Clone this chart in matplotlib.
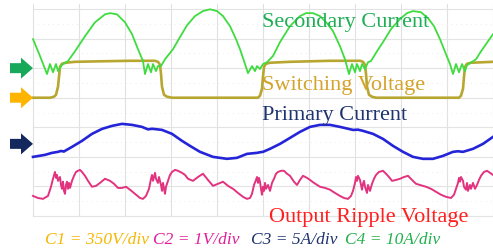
import numpy as np
import matplotlib
matplotlib.use("Agg")
import matplotlib.pyplot as plt
from matplotlib.patches import Polygon
from matplotlib.transforms import ScaledTranslation

# ---------------- data ----------------
# time axis in microseconds (4.6 us / div)
t_sec = [0.0, 0.7, 1.4, 1.7, 2.0, 2.3, 2.5, 2.8, 3.0, 3.5, 4.2, 5.2, 6.2, 7.2, 7.7, 8.4, 9.2, 9.9,
         10.5, 11.0, 11.2, 11.5, 11.8, 12.0, 12.3, 12.5, 12.8, 13.2, 14.0, 14.7, 15.4, 16.2, 17.0,
         17.7, 18.4, 19.0, 19.7, 20.3, 20.7, 21.2, 21.5, 21.9, 22.2, 22.4, 22.7, 23.0, 23.4, 24.0,
         24.7, 25.7, 26.7, 27.3, 28.0, 28.7, 29.4, 30.0, 30.7, 31.2, 31.6, 31.9, 32.2, 32.4, 32.7,
         32.9, 33.2, 33.5, 33.8, 34.4, 35.0, 35.8, 36.7, 37.4, 38.0, 38.8, 39.5, 40.1, 40.7, 41.3,
         41.7, 42.0, 42.3, 42.6, 42.9, 43.2, 43.4, 43.7, 44.3, 44.8, 45.3, 46.0]
# secondary current (A), C4 = 10 A/div
i_sec = [9.8, 4.1, -2.0, 1.4, -1.4, 1.4, -1.0, 0.7, 1.4, 2.4, 5.7, 10.8, 15.5, 18.2, 18.6, 18.2, 15.5, 11.5,
         6.4, 2.4, -2.0, 1.4, -1.4, 1.4, -1.0, 0.7, 0.7, 3.0, 6.4, 10.5, 14.5, 17.6, 19.3,
         19.9, 19.3, 17.6, 14.2, 9.8, 6.4, 1.4, -1.7, 0.7, -1.0, 0.7, -0.3, 1.4, 2.0, 4.1,
         8.8, 14.2, 17.6, 18.6, 18.6, 17.6, 15.2, 12.5, 7.4, 3.0, -2.0, 1.4, -1.4, 1.4, -1.0,
         1.4, -0.3, 2.0, 2.4, 5.7, 8.8, 13.2, 16.6, 18.6, 19.3, 18.9, 16.9, 14.2, 9.8, 4.7,
         1.4, -2.0, 1.4, -1.4, 1.4, -1.0, 1.0, 1.7, 3.0, 5.7, 8.1, 11.5]

t_sw = [0.0, 1.7, 2.1, 2.3, 2.5, 2.6, 2.7, 2.9, 3.3, 4.2, 6.7, 9.7, 12.2, 12.5, 12.7, 12.8, 12.9,
        13.1, 13.4, 13.9, 22.5, 22.7, 22.9, 23.0, 23.1, 23.3, 23.7, 25.7, 29.7, 32.7, 33.0, 33.2,
        33.3, 33.4, 33.6, 33.9, 34.3, 42.6, 42.8, 43.0, 43.1, 43.2, 43.4, 43.8, 46.0]
# switching voltage (V), C1 = 350 V/div
v_sw = [0, 0, 12, 35, 130, 248, 366, 402, 414, 425, 431, 437, 437, 425, 390, 284, 130,
        35, 12, 0, 0, 24, 106, 248, 366, 402, 414, 425, 437, 437, 425, 390,
        284, 130, 35, 12, 0, 0, 24, 106, 248, 366, 402, 414, 425]

t_pri = [0.0, 1.2, 1.9, 2.5, 2.8, 3.1, 3.2, 3.9, 4.9, 5.9, 6.9, 7.9, 8.9, 9.9, 10.9, 11.5, 11.9,
         12.2, 12.9, 13.9, 14.9, 15.7, 16.7, 18.0, 19.4, 20.4, 21.4, 22.4, 22.7, 23.0, 23.7, 24.7,
         25.7, 26.7, 27.7, 28.7, 29.7, 30.7, 32.0, 32.5, 33.0, 34.0, 35.0, 36.0, 37.0, 38.0, 39.0,
         40.0, 41.0, 42.0, 42.5, 43.0, 44.0, 45.0, 46.0]
# primary current (A), C3 = 5 A/div
i_pri = [-2.20, -1.86, -1.52, -1.35, -1.20, -1.30, -1.18, -0.51, 0.51, 1.69, 2.53, 3.04, 3.38, 3.21,
         2.87, 2.45, 2.55, 2.50, 2.36, 1.69, 0.51, -0.34, -1.35, -2.20, -2.53, -2.36, -1.69, -1.52,
         -1.42, -1.35, -0.84, 0.00, 1.01, 2.03, 2.87, 3.21, 3.21, 2.87, 2.36, 2.40, 2.20, 1.69, 0.84,
         -0.34, -1.35, -2.20, -2.53, -2.53, -2.03, -1.35, -1.25, -1.35, -0.84, 0.00, 1.18]

t_rip = [0.0, 0.5, 1.0, 1.5, 1.8, 2.0, 2.2, 2.3, 2.4, 2.5, 2.7, 2.8, 2.9, 3.0, 3.1, 3.2, 3.3, 3.4,
         3.5, 3.6, 3.7, 3.9, 4.1, 4.3, 4.5, 4.7, 4.9, 5.2, 5.5, 5.9, 6.3, 6.7, 7.2, 7.7, 8.1, 8.5,
         8.9, 9.3, 9.7, 10.2, 10.7, 11.0, 11.3, 11.6, 11.8, 11.9, 12.0, 12.2, 12.3, 12.5, 12.6, 12.8,
         12.9, 13.0, 13.2, 13.3, 13.5, 13.7, 13.9, 14.2, 14.5, 14.9, 15.2,
         15.5, 16.0, 16.5, 17.0, 17.5, 18.0, 18.5, 19.0, 19.5, 20.0, 20.5, 21.0, 21.4, 21.7, 21.9,
         22.1, 22.3, 22.4, 22.5, 22.6, 22.7, 22.8, 22.9, 23.0, 23.1, 23.2, 23.3, 23.5, 23.7, 23.9,
         24.1, 24.3, 24.5, 24.8, 25.1, 25.4, 25.7, 26.1, 26.4, 26.7, 27.0, 27.4, 27.7, 28.1, 28.7,
         29.2, 29.7, 30.2, 30.7,
         31.1, 31.5, 31.8, 32.0, 32.2, 32.3, 32.4, 32.5, 32.7, 32.8, 32.9, 33.0, 33.1, 33.2, 33.4,
         33.5, 33.7, 33.9, 34.1, 34.3, 34.6, 35.0, 35.3, 35.6, 35.9, 36.3, 36.7, 37.1, 37.5, 37.9,
         38.3, 38.7, 39.3, 39.8, 40.3, 40.8, 41.3, 41.8, 42.1, 42.3, 42.5, 42.6, 42.7, 42.8, 43.0,
         43.1, 43.3, 43.4, 43.5, 43.7, 43.8, 44.0, 44.2, 44.4, 44.6, 44.8, 45.1, 45.4, 45.7, 46.0]
# output ripple voltage (V), C2 = 1 V/div
v_rip = [-0.32, -0.39, -0.42, -0.32, -0.01, 0.26, 0.49, 0.29, 0.39, 0.19, 0.32, 0.05, -0.08, 0.16,
         -0.15, -0.25, 0.05, 0.16, -0.08, 0.12, -0.05, 0.19, 0.36, 0.49, 0.53, 0.56, 0.49, 0.36, 0.19,
         -0.01, 0.02, 0.12, 0.26, 0.19, 0.09, -0.05, -0.05, -0.01, -0.11, -0.25, -0.39, -0.42, -0.32,
         -0.08, 0.26, 0.39, 0.19, 0.46, 0.26, 0.12, 0.32, 0.05, -0.15, 0.12, -0.25, -0.01, 0.19, 0.39,
         0.49, 0.56, 0.53, 0.46, 0.39,
         0.26, 0.19, 0.32, 0.43, 0.22, 0.02, 0.09, 0.16, 0.02, -0.08, -0.22, -0.35, -0.42, -0.39, -0.25,
         0.05, 0.22, 0.32, 0.12, 0.29, 0.16, -0.08, -0.28, -0.01, -0.15, 0.12, -0.08, 0.05, -0.15, 0.12,
         0.26, 0.43, 0.49, 0.53, 0.53, 0.43, 0.36, 0.16, 0.05, 0.22, 0.36, 0.29, 0.22, 0.12, -0.01,
         -0.05, -0.11, -0.22, -0.32,
         -0.39, -0.42, -0.32, -0.15, 0.12, 0.32, 0.19, 0.36, 0.22, 0.05, -0.11, 0.09, 0.19, -0.01, -0.22,
         0.05, -0.15, 0.09, 0.26, 0.39, 0.49, 0.53, 0.43, 0.32, 0.19, 0.22, 0.26, 0.32, 0.36, 0.22,
         0.09, 0.05, -0.01, -0.08, -0.18, -0.28, -0.35, -0.39, -0.28, -0.08, 0.12, 0.29, 0.16, 0.32, 0.19,
         -0.01, -0.11, 0.12, -0.15, 0.05, -0.08, 0.12, -0.08, 0.05, 0.22, 0.36, 0.49, 0.53, 0.46, 0.39]

labels = ["Secondary Current", "Switching Voltage", "Primary Current", "Output Ripple Voltage"]
scale_labels = ["C1 = 350V/div", "C2 = 1V/div", "C3 = 5A/div", "C4 = 10A/div"]

# ---------------- scope settings ----------------
US_PER_DIV = 4.6
N_HDIV = 10
N_VDIV = 7
CH4_SCALE, CH4_POS = 10.0, 5.0     # secondary current
CH1_SCALE, CH1_POS = 350.0, 4.0    # switching voltage
CH3_SCALE, CH3_POS = 5.0, 2.44     # primary current
CH2_SCALE, CH2_POS = 1.0, 1.0      # output ripple

W, H = 493, 253
fig = plt.figure(figsize=(W / 100, H / 100), dpi=100)
fig.patch.set_facecolor("white")
ax = fig.add_axes([0, 0, 1, 1])
ax.set_xlim(-33 / 46 * US_PER_DIV, N_HDIV * US_PER_DIV)
ax.set_ylim(-1.216, 7.338)
ax.axis("off")

# graticule
for k in range(N_HDIV + 1):
    ax.plot([k * US_PER_DIV] * 2, [0, 7.17], color="#e1e1e1", lw=0.8, zorder=1)
for k in range(N_VDIV + 1):
    ax.plot([0, N_HDIV * US_PER_DIV], [k, k], color="#e3e3e3", lw=0.8, zorder=1)
for k in range(N_VDIV):
    ax.plot([0, N_HDIV * US_PER_DIV], [k + 0.5, k + 0.5], color="#ececec", lw=0.7,
            ls=(0, (1, 4)), zorder=1)

# traces
ax.plot(t_sw, CH1_POS + np.array(v_sw) / CH1_SCALE, color="#b7a630", lw=1.9, zorder=3,
        solid_joinstyle="round")
ax.plot(t_sec, CH4_POS + np.array(i_sec) / CH4_SCALE, color="#3fdc3f", lw=1.3, zorder=4,
        solid_joinstyle="round")
ax.plot(t_pri, CH3_POS + np.array(i_pri) / CH3_SCALE, color="#2424d8", lw=1.9, zorder=3,
        solid_joinstyle="round")
ax.plot(t_rip, CH2_POS + np.array(v_rip) / CH2_SCALE, color="#e2337f", lw=1.4, zorder=3,
        solid_joinstyle="round")

# ground markers (arrows)
arrow_shape = [(0, 0), (-0.12, 0.105), (-0.12, 0.05), (-0.23, 0.05),
               (-0.23, -0.05), (-0.12, -0.05), (-0.12, -0.105)]
for pos, col in [(CH4_POS, "#17a85a"), (CH1_POS, "#ffb400"), (CH3_POS, "#13285c")]:
    tr = fig.dpi_scale_trans + ScaledTranslation(0, pos, ax.transData)
    ax.add_patch(Polygon(arrow_shape, closed=True, facecolor=col, edgecolor="none",
                         transform=tr, zorder=5, clip_on=False))

# labels
serif = "Liberation Serif"
def ptxt(x, y, s, col, size, style="normal"):
    ax.text(x / W, 1 - y / H, s, transform=ax.transAxes, color=col, fontsize=size,
            family=serif, style=style, ha="left", va="baseline", zorder=6)

ptxt(262, 27, labels[0], "#1fae55", 16)
ptxt(262, 90, labels[1], "#d4a32a", 16)
ptxt(262, 120, labels[2], "#1f3370", 16)
ptxt(269, 222, labels[3], "#ff1f1f", 16)

ptxt(45, 244, scale_labels[0], "#f5b800", 12.5, "italic")
ptxt(153, 244, scale_labels[1], "#df1f9a", 12.5, "italic")
ptxt(251, 244, scale_labels[2], "#1f3370", 12.5, "italic")
ptxt(345, 244, scale_labels[3], "#22b04c", 12.5, "italic")

fig.savefig("out.png", dpi=100, facecolor="white")
